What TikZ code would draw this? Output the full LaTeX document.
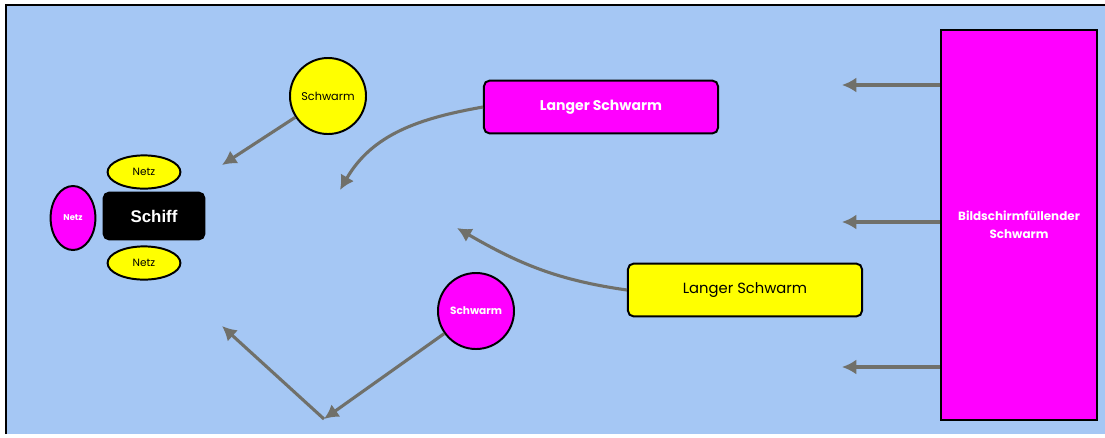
\documentclass[tikz,border=0pt]{standalone}
\usepackage{fontspec}
\setmainfont{Poppins}
\newfontfamily\schiffont{Liberation Sans}
\usetikzlibrary{arrows.meta,shapes.geometric}

\definecolor{himmel}{RGB}{165,199,244}
\definecolor{lila}{RGB}{255,0,255}
\definecolor{gelb}{RGB}{255,255,0}
\definecolor{pfeilgrau}{RGB}{112,112,106}

\begin{document}
\begin{tikzpicture}[x=0.025cm, y=-0.025cm,
    rand/.style={draw=black, line width=1.4pt},
    kasten/.style={rand, rectangle, rounded corners=4pt, minimum width=5.85cm, minimum height=1.32cm},
    schwarm/.style={rand, circle, minimum size=1.9cm, inner sep=0pt},
    netz/.style={rand, ellipse, inner sep=0pt},
    weiss/.style={text=white, font=\bfseries\fontsize{#1}{13}\selectfont},
    pfeil/.style={draw=pfeilgrau, line width=2.2pt, -{Latex[length=3.6mm, width=3.8mm]}}]
    \useasboundingbox (0,0) rectangle (1105,437);

    % Hintergrund mit Rahmen oben und links
    \fill[himmel] (6,5) rectangle (1105,434);
    \draw[line width=1.5pt] (6,434) -- (6,5) -- (1105,5);

    % Schiff mit Netzen
    \node[rand, fill=black, rounded corners=4pt, minimum width=2.52cm, minimum height=1.17cm,
          text=white, font=\schiffont\bfseries\fontsize{12}{14}\selectfont] (schiff) at (154,216) {Schiff};
    \node[netz, fill=gelb, minimum width=1.82cm, minimum height=0.83cm,
          font=\fontsize{7.5}{9}\selectfont] (netzoben) at (144,172) {Netz};
    \node[netz, fill=gelb, minimum width=1.82cm, minimum height=0.83cm,
          font=\fontsize{7.5}{9}\selectfont] (netzunten) at (144,263) {Netz};
    \node[netz, fill=lila, minimum width=1.12cm, minimum height=1.6cm, weiss=6] (netzlinks) at (73,218) {Netz};

    % Schwaerme
    \node[schwarm, fill=gelb, font=\fontsize{8}{10}\selectfont] (swgelb) at (328,96) {Schwarm};
    \node[schwarm, fill=lila, weiss=7.5] (swlila) at (476,311) {Schwarm};
    \node[kasten, fill=lila, weiss=10] (langlila) at (601,107) {Langer Schwarm};
    \node[kasten, fill=gelb, font=\fontsize{10.5}{12}\selectfont] (langgelb) at (745,290) {Langer Schwarm};
    \node[rand, fill=lila, minimum width=3.92cm, minimum height=9.75cm, align=center,
          weiss=8.5] (wand) at (1019,225) {Bildschirmfüllender\\Schwarm};

    % Zielpunkte der Pfeile
    \coordinate (z1) at (222,165);
    \coordinate (z2) at (340,190);
    \coordinate (z3) at (457,228);
    \coordinate (z4) at (324,419);
    \coordinate (z5) at (222,326);

    \draw[pfeil] (swgelb) -- (z1);
    \draw[pfeil] (langlila.west) to[out=190, in=60] (z2);
    \draw[pfeil] (langgelb.west) to[out=172, in=-30] (z3);
    \draw[pfeil] (swlila) -- (z4);
    \draw[pfeil] (z4) -- (z5);
    \foreach \y [count=\i] in {85,222,367} {
        \coordinate (w\i) at (842,\y);
        \draw[pfeil] (wand.west |- w\i) -- (w\i);
    }
\end{tikzpicture}
\end{document}
